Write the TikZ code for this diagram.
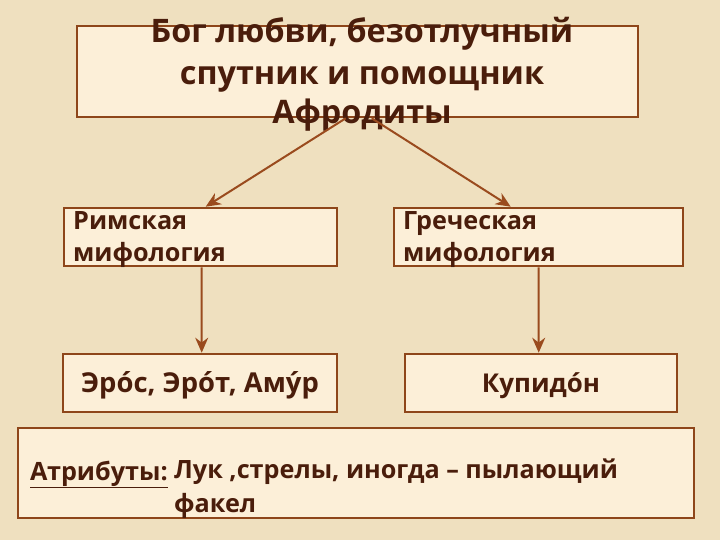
\documentclass[tikz,border=0pt]{standalone}
\usepackage{fontspec}
\setmainfont{Open Sans}[BoldFont={* Bold}]
\usetikzlibrary{arrows.meta,calc}
\definecolor{bgc}{HTML}{EFE0BF}
\definecolor{boxfill}{HTML}{FCEFD8}
\definecolor{boxline}{HTML}{8E461A}
\definecolor{txt}{HTML}{4A1D0B}
\definecolor{arrc}{HTML}{9A4B1E}
\tikzset{
  box/.style={draw=boxline, fill=boxfill, line width=2.6bp, rectangle, inner sep=0pt},
  lbl/.style={text=txt, font=\bfseries, inner sep=0pt, anchor=base},
  arr/.style={draw=arrc, line width=2bp, -{Stealth[length=15bp,width=13bp]}}
}
\begin{document}
\begin{tikzpicture}[x=1bp,y=-1bp]
\fill[bgc] (0,0) rectangle (720,540);
\useasboundingbox (0,0) rectangle (720,540);
% boxes
\node[box, minimum width=561bp, minimum height=91bp] (top) at (357.5,71.5) {};
\node[box, minimum width=273bp, minimum height=58bp] (rom) at (200.5,237) {};
\node[box, minimum width=289bp, minimum height=58bp] (gre) at (538.5,237) {};
\node[box, minimum width=274bp, minimum height=58bp] (ero) at (200,383) {};
\node[box, minimum width=272bp, minimum height=58bp] (kup) at (541,383) {};
\node[box, minimum width=676bp, minimum height=90bp] (att) at (356,473) {};
% title
\begin{scope}[every node/.style={lbl, font=\bfseries\fontsize{32.5}{38}\selectfont}]
\node (t1) at (362,43) {Бог любви, безотлучный};
\node (t2) at (362,85) {спутник и помощник};
\node (t3) at (362,124) {Афродиты};
\end{scope}
\begin{scope}[every node/.style={lbl, font=\bfseries\fontsize{25.3}{30}\selectfont}]
\node[anchor=base west] (r1) at (73,230) {Римская};
\node[anchor=base west] (r2) at (73,262) {мифология};
\node[anchor=base west] (g1) at (403,230) {Греческая};
\node[anchor=base west] (g2) at (403,262) {мифология};
\end{scope}
\node[lbl, font=\bfseries\fontsize{27.5}{32}\selectfont] (e1) at (200,392) {Эро́с, Эро́т, Аму́р};
\node[lbl, font=\bfseries\fontsize{26}{32}\selectfont] (k1) at (541,392) {Купидо́н};
\begin{scope}[every node/.style={lbl, font=\bfseries\fontsize{25.3}{30}\selectfont}]
\node[anchor=base west] (a0) at (30,480) {\underline{Атрибуты:}};
\node[anchor=base west] (a1) at (174,478) {Лук ,стрелы, иногда – пылающий};
\node[anchor=base west] (a2) at (174,512) {факел};
\end{scope}
% arrows
\coordinate (s1) at ([xshift=270bp]top.south west);
\coordinate (s2) at ([xshift=296bp]top.south west);
\draw[arr] (s1) -- ([xshift=143bp]rom.north west);
\draw[arr] (s2) -- ([xshift=118bp]gre.north west);
\draw[arr] ([xshift=139bp]rom.south west) -- ([xshift=140bp]ero.north west);
\draw[arr] ([xshift=146bp]gre.south west) -- ([xshift=135bp]kup.north west);
\end{tikzpicture}
\end{document}
